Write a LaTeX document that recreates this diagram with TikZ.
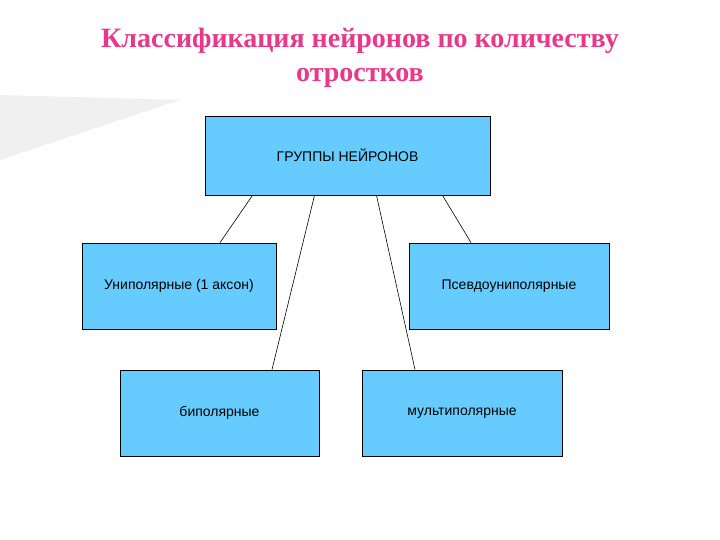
\documentclass[tikz,border=0pt]{standalone}
\usepackage{fontspec}
\setmainfont{Liberation Serif}
\newfontfamily\boxfont{Liberation Sans}
\begin{document}
\begin{tikzpicture}[x=1pt,y=-1pt,
  bx/.style={draw=black,line width=0.8pt,fill=cyan!45!blue!40!white,fill=boxblue,inner sep=0pt,font=\boxfont\fontsize{14}{16}\selectfont},
  ln/.style={draw=black,line width=0.6pt}]
\definecolor{boxblue}{HTML}{66CCFF}
\definecolor{titlepink}{HTML}{E8388A}
\useasboundingbox (0,0) rectangle (720,540);
\fill[white] (0,0) rectangle (720,540);
\fill[gray!12] (0,95) -- (180,100) -- (0,160) -- cycle;
\node[font=\bfseries\fontsize{28}{34}\selectfont,text=titlepink,align=center] (title) at (360,58) {Классификация нейронов по количеству\\отростков};
\node[bx,minimum width=285,minimum height=79] (top) at (347.5,155.5) {ГРУППЫ НЕЙРОНОВ};
\node[bx,minimum width=194,minimum height=86] (uni) at (179,286) {Униполярные (1 аксон)};
\node[bx,minimum width=200,minimum height=86] (pse) at (509,286) {Псевдоуниполярные};
\node[bx,minimum width=199,minimum height=86] (bi) at (219.5,413) {биполярные};
\node[bx,minimum width=200,minimum height=86] (mul) at (462,413) {мультиполярные};
\draw[ln] ([xshift=-95pt]top.south) -- ([xshift=41pt]uni.north);
\draw[ln] ([xshift=-33pt]top.south) -- ([xshift=52.5pt]bi.north);
\draw[ln] ([xshift=29pt]top.south) -- ([xshift=-47pt]mul.north);
\draw[ln] ([xshift=95pt]top.south) -- ([xshift=-38pt]pse.north);
\end{tikzpicture}
\end{document}
